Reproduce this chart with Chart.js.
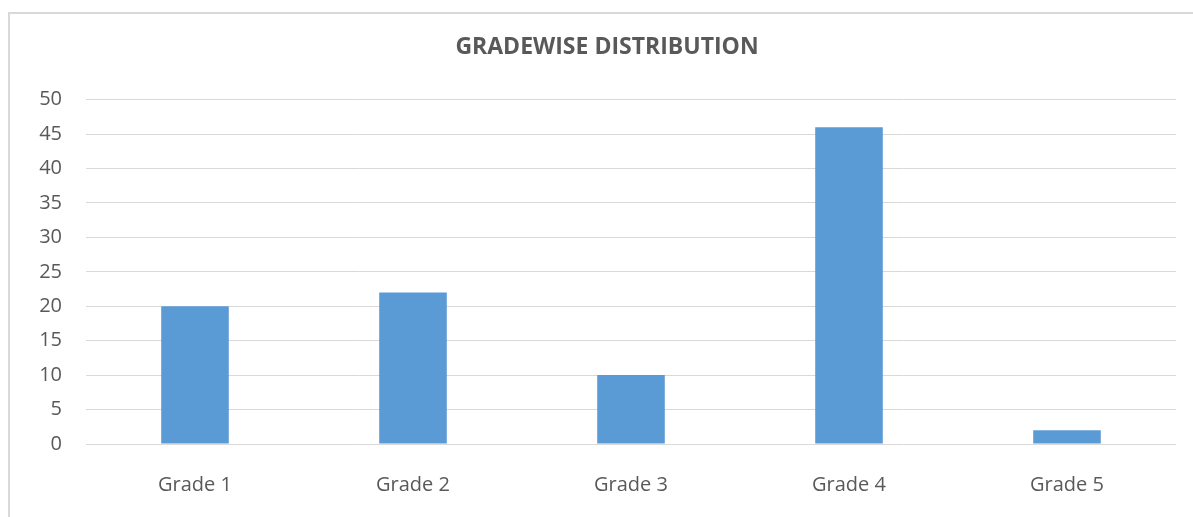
<!DOCTYPE html>
<html>
<head>
<meta charset="utf-8">
<script src="https://cdn.jsdelivr.net/npm/chart.js@4"></script>
<style>
  html, body { margin: 0; padding: 0; background: #fff; }
  #frame { position: absolute; left: 8px; top: 12px; width: 1200px; height: 520px;
           border-left: 2px solid #d9d9d9; border-top: 2px solid #d9d9d9; }
  #wrap { position: absolute; left: 0; top: 0; width: 1193px; height: 517px; }
</style>
</head>
<body>
<div id="frame"></div>
<div id="wrap"><canvas id="grades"></canvas></div>
<script>
var grades = ["Grade 1", "Grade 2", "Grade 3", "Grade 4", "Grade 5"];
var counts = [20, 22, 10, 46, 2];
var yTicks = [0, 5, 10, 15, 20, 25, 30, 35, 40, 45, 50];

var textColor = "#595959";
var ctx = document.getElementById("grades");
new Chart(ctx, {
    type: 'bar',
    data: {
        labels: grades,
        datasets: [{
            data: counts,
            backgroundColor: "#5b9bd5",
            barPercentage: 0.31,
            categoryPercentage: 1.0
        }]
    },
    options: {
        responsive: true,
        maintainAspectRatio: false,
        animation: false,
        layout: { padding: { left: 38, right: 17, top: 0, bottom: 22 } },
        plugins: {
            legend: { display: false },
            tooltip: { enabled: false },
            title: {
                display: true,
                text: 'GRADEWISE DISTRIBUTION',
                color: textColor,
                font: { family: "Open Sans", size: 23, weight: 'bold' },
                padding: { top: 34, bottom: 38 }
            }
        },
        scales: {
            x: {
                afterFit: function(s) { s.height = 51; },
                grid: { display: false, drawTicks: false },
                border: { display: false },
                ticks: {
                    color: textColor,
                    padding: 29,
                    font: { family: "Open Sans", size: 20 }
                }
            },
            y: {
                min: 0,
                max: 50,
                afterFit: function(s) { s.width = 48; },
                afterBuildTicks: function(s) {
                    s.ticks = yTicks.map(function(v) { return { value: v }; });
                },
                grid: { color: "#d9d9d9", lineWidth: 1, drawTicks: false },
                border: { display: false },
                ticks: {
                    color: textColor,
                    padding: 24,
                    font: { family: "Open Sans", size: 20 }
                }
            }
        }
    }
});
</script>
</body>
</html>
